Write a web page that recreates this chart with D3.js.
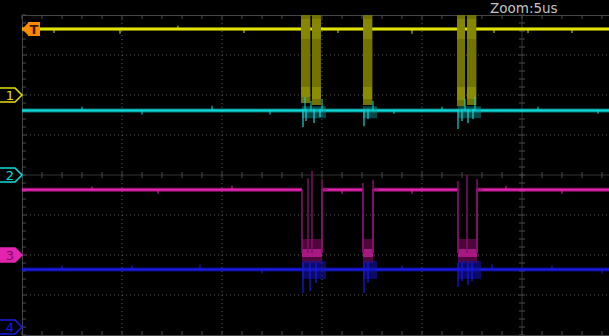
<!DOCTYPE html>
<html><head><meta charset="utf-8">
<script src="https://cdn.jsdelivr.net/npm/d3@7"></script>
<style>html,body{margin:0;padding:0;background:#000;overflow:hidden}svg{display:block}</style>
</head><body>
<script>
// ---- data (time in µs, amplitude in divisions) ----
const timeTicks = [-20, -15, -10, -5, 0, 5];
const voltTicks = [-3, -2, -1, 1, 2, 3];
const channelNames = ["1", "2", "3", "4"];
const channelOffsets = [2, 0, -2, -3.8];
const traceLevels = [3.65, 1.61, -0.37, -2.36];
// ch1 data bursts [start, end]
const bursts = [[-11.05, -10.6], [-10.5, -10.05], [-7.95, -7.5], [-3.25, -2.85], [-2.75, -2.3]];
const burstLows = [1.8, 1.75, 1.75, 1.72, 1.75];
// ch3 low periods [start, end]
const ch3Groups = [[-11.0, -10.0], [-7.95, -7.45], [-3.2, -2.25]];
const ch3Low = -1.95;
// ch3 spikes [time, peak]
const ch3Spikes = [[-10.7, -0.08], [-10.5, 0.1], [-10.0, -0.12], [-7.95, -0.2], [-7.45, -0.12], [-3.2, -0.15], [-2.75, 0.0], [-2.25, -0.1]];
// ch2 and ch4 disturbance peaks [time, low]
const ch2Dips = [[-10.95, 1.2], [-10.8, 1.35], [-10.4, 1.3], [-10.1, 1.45], [-7.9, 1.22], [-7.7, 1.4], [-3.2, 1.15], [-3.0, 1.35], [-2.7, 1.3], [-2.45, 1.4]];
const ch2Ups = [[-10.85, 1.95], [-10.55, 1.85], [-10.0, 1.9], [-7.45, 1.85], [-2.85, 1.9], [-2.35, 1.95]];
const ch4Dips = [[-10.95, -2.95], [-10.6, -2.9], [-10.3, -2.7], [-7.9, -2.95], [-7.7, -2.7], [-3.2, -2.8], [-3.0, -2.65], [-2.7, -2.75], [-2.5, -2.65]];
// small baseline glitches [time, deviation]
const ch1Glitch = [[-23.4, -0.1], [-20.1, -0.12], [-17.2, 0.08], [-13.9, -0.1], [-9.2, -0.1], [-5.5, -0.12], [-1.4, -0.1], [0.3, -0.1], [2.5, -0.1]];
const ch2Glitch = [[-22.0, 0.1], [-19.0, -0.1], [-15.5, 0.12], [-12.6, -0.1], [-6.4, -0.08], [-4.0, 0.1], [0.8, 0.1], [3.8, -0.08]];
const ch3Glitch = [[-21.5, 0.08], [-18.2, -0.1], [-14.5, 0.1], [-9.0, -0.1], [-5.5, -0.1], [-0.8, 0.1], [2.0, -0.1]];
const ch4Glitch = [[-23.0, 0.1], [-19.5, 0.1], [-16.1, 0.12], [-13.0, -0.1], [-6.0, 0.1], [-1.5, 0.12], [1.5, 0.1], [4.0, -0.1]];
const zoomLabel = "Zoom:5us";

const W = 609, H = 336;
const colors = ["#e2e200", "#10dada", "#e424b0", "#1a1ae8"];
const svg = d3.select("body").append("svg").attr("width", W).attr("height", H);
svg.append("rect").attr("width", W).attr("height", H).attr("fill", "#000");

const x = d3.scaleLinear().domain([-25, 25]).range([22, 1022]);
const y = d3.scaleLinear().domain([-4, 4]).range([335, 15]);

// ---- graticule ----
const g = svg.append("g");
g.selectAll(".vx").data(timeTicks.filter(t => t !== 0)).join("line")
  .attr("x1", d => x(d)).attr("x2", d => x(d)).attr("y1", 15).attr("y2", 335)
  .attr("stroke", "#5a5a5a").attr("stroke-dasharray", "1,3");
g.selectAll(".hy").data(voltTicks).join("line")
  .attr("x1", 22).attr("x2", W).attr("y1", d => y(d)).attr("y2", d => y(d))
  .attr("stroke", "#5a5a5a").attr("stroke-dasharray", "1,3");
// center axes
g.append("line").attr("x1", 22).attr("x2", W).attr("y1", y(0)).attr("y2", y(0)).attr("stroke", "#333");
g.append("line").attr("x1", x(0)).attr("x2", x(0)).attr("y1", 15).attr("y2", 335).attr("stroke", "#333");
const minorT = d3.range(-25, 5.01, 1);
const minorV = d3.range(-4, 4.01, 0.2);
g.selectAll(".mt").data(minorT).join("line")
  .attr("x1", d => x(d)).attr("x2", d => x(d)).attr("y1", y(0) - 3).attr("y2", y(0) + 3).attr("stroke", "#4a4a4a");
g.selectAll(".mv").data(minorV).join("line")
  .attr("x1", x(0) - 3).attr("x2", x(0) + 3).attr("y1", d => y(d)).attr("y2", d => y(d)).attr("stroke", "#4a4a4a");
// borders
g.append("line").attr("x1", 22).attr("x2", W).attr("y1", 15.5).attr("y2", 15.5).attr("stroke", "#444");
g.append("line").attr("x1", 22).attr("x2", W).attr("y1", 335.5).attr("y2", 335.5).attr("stroke", "#444");
g.append("line").attr("x1", 22.5).attr("x2", 22.5).attr("y1", 15).attr("y2", 336).attr("stroke", "#444");
g.selectAll(".bt").data(minorT).join("line")
  .attr("x1", d => x(d)).attr("x2", d => x(d)).attr("y1", 15).attr("y2", 19).attr("stroke", "#4a4a4a");
g.selectAll(".bb").data(minorT).join("line")
  .attr("x1", d => x(d)).attr("x2", d => x(d)).attr("y1", 331).attr("y2", 335).attr("stroke", "#4a4a4a");
g.selectAll(".bl").data(minorV).join("line")
  .attr("x1", 22).attr("x2", 26).attr("y1", d => y(d)).attr("y2", d => y(d)).attr("stroke", "#4a4a4a");

// ---- traces ----
const line = d3.line().x(d => x(d[0])).y(d => y(d[1])).curve(d3.curveLinear);
function baseline(i, glitches) {
  const lv = traceLevels[i];
  const tg = svg.append("g");
  tg.append("line").attr("x1", x(-25)).attr("x2", W).attr("y1", y(lv)).attr("y2", y(lv))
    .attr("stroke", colors[i]).attr("stroke-width", 4).attr("opacity", 0.55);
  tg.append("line").attr("x1", x(-25)).attr("x2", W).attr("y1", y(lv)).attr("y2", y(lv))
    .attr("stroke", colors[i]).attr("stroke-width", 2);
  tg.selectAll("line.gl").data(glitches).join("line").attr("class", "gl")
    .attr("x1", d => x(d[0])).attr("x2", d => x(d[0]))
    .attr("y1", y(lv)).attr("y2", d => y(lv + d[1]))
    .attr("stroke", colors[i]).attr("stroke-width", 1);
  return tg;
}

// ch1 bursts
baseline(0, ch1Glitch);
const b1 = svg.append("g");
b1.selectAll("rect").data(bursts).join("rect")
  .attr("x", d => x(d[0])).attr("width", d => x(d[1]) - x(d[0]))
  .attr("y", y(4)).attr("height", (d, i) => y(burstLows[i]) - y(4))
  .attr("fill", "#6a6a00");
bursts.forEach((b, i) => {
  const cols = d3.range(b[0] + 0.05, b[1], 0.1);
  b1.selectAll(null).data(cols).join("line")
    .attr("x1", d => x(d)).attr("x2", d => x(d))
    .attr("y1", y(4)).attr("y2", y(burstLows[i]))
    .attr("stroke", "#858500").attr("stroke-width", 1).attr("opacity", 0.7);
  b1.append("rect").attr("x", x(b[0])).attr("width", x(b[1]) - x(b[0]))
    .attr("y", y(2.2)).attr("height", y(burstLows[i] + 0.15) - y(2.2))
    .attr("fill", "#a0a000").attr("opacity", 0.55);
  b1.append("rect").attr("x", x(b[0])).attr("width", x(b[1]) - x(b[0]))
    .attr("y", y(3.9)).attr("height", y(3.4) - y(3.9))
    .attr("fill", "#959500").attr("opacity", 0.55);
});

// ch2
baseline(1, ch2Glitch);
const b2 = svg.append("g");
ch3Groups.forEach(gr => {
  b2.append("rect").attr("x", x(gr[0])).attr("width", x(gr[1] + 0.2) - x(gr[0]))
    .attr("y", y(1.72)).attr("height", y(1.42) - y(1.72)).attr("fill", "#0c9a9a").attr("opacity", 0.45);
});
b2.selectAll("line.d").data(ch2Dips).join("line").attr("class", "d")
  .attr("x1", d => x(d[0])).attr("x2", d => x(d[0]))
  .attr("y1", y(1.65)).attr("y2", d => y(d[1])).attr("stroke", colors[1]).attr("stroke-width", 1.2);
b2.selectAll("line.u").data(ch2Ups).join("line").attr("class", "u")
  .attr("x1", d => x(d[0])).attr("x2", d => x(d[0]))
  .attr("y1", y(1.6)).attr("y2", d => y(d[1])).attr("stroke", colors[1]).attr("stroke-width", 1);

// ch3
baseline(2, ch3Glitch);
const b3 = svg.append("g");
ch3Groups.forEach(gr => {
  b3.append("rect").attr("x", x(gr[0])).attr("width", x(gr[1]) - x(gr[0]))
    .attr("y", y(traceLevels[2]) - 3).attr("height", 6).attr("fill", "#000");
  b3.append("rect").attr("x", x(gr[0])).attr("width", x(gr[1]) - x(gr[0]))
    .attr("y", y(-1.6)).attr("height", y(-2.2) - y(-1.6)).attr("fill", "#6a0850").attr("opacity", 0.75);
  b3.append("rect").attr("x", x(gr[0])).attr("width", x(gr[1]) - x(gr[0]))
    .attr("y", y(-1.85)).attr("height", y(-2.05) - y(-1.85)).attr("fill", colors[2]).attr("opacity", 0.6);
  b3.append("path").attr("d", line([[gr[0], traceLevels[2]], [gr[0], ch3Low]]))
    .attr("stroke", "#8a1470").attr("stroke-width", 1.5).attr("fill", "none");
  b3.append("path").attr("d", line([[gr[1], ch3Low], [gr[1], traceLevels[2]], [gr[1] + 0.3, traceLevels[2]]]))
    .attr("stroke", "#a81a82").attr("stroke-width", 1.5).attr("fill", "none");
});
b3.selectAll("line.s").data(ch3Spikes).join("line").attr("class", "s")
  .attr("x1", d => x(d[0])).attr("x2", d => x(d[0]))
  .attr("y1", y(ch3Low)).attr("y2", d => y(d[1])).attr("stroke", "#7e1266").attr("stroke-width", 1.5);

// ch4
baseline(3, ch4Glitch);
const b4 = svg.append("g");
ch3Groups.forEach(gr => {
  b4.append("rect").attr("x", x(gr[0])).attr("width", x(gr[1] + 0.2) - x(gr[0]))
    .attr("y", y(-2.15)).attr("height", y(-2.6) - y(-2.15)).attr("fill", "#1212a8").attr("opacity", 0.6);
});
b4.selectAll("line.d").data(ch4Dips).join("line").attr("class", "d")
  .attr("x1", d => x(d[0])).attr("x2", d => x(d[0]))
  .attr("y1", y(-2.2)).attr("y2", d => y(d[1])).attr("stroke", colors[3]).attr("stroke-width", 1.2);

// ---- channel markers ----
const mk = svg.append("g");
channelNames.forEach((n, i) => {
  const cy = y(channelOffsets[i]);
  const filled = i === 2;
  mk.append("path")
    .attr("d", `M0,${cy - 7}H15L22,${cy}L15,${cy + 7}H0`)
    .attr("fill", filled ? colors[i] : "none")
    .attr("stroke", colors[i]).attr("stroke-width", 1.5);
  mk.append("text").attr("x", 10).attr("y", cy + 5).attr("text-anchor", "middle")
    .attr("font-family", "DejaVu Sans, sans-serif").attr("font-size", 13)
    .attr("fill", filled ? "#7a0a5c" : colors[i]).text(n);
});
// trigger marker
const ty = y(traceLevels[0]);
mk.append("path").attr("d", `M22,${ty}L28,${ty - 6}V${ty - 7}H40V${ty + 7}H28V${ty + 6}Z`).attr("fill", "#ff8a00");
mk.append("text").attr("x", 34).attr("y", ty + 5).attr("text-anchor", "middle")
  .attr("font-family", "DejaVu Sans, sans-serif").attr("font-size", 13).attr("font-weight", "bold")
  .attr("fill", "#3a1a00").text("T");

svg.append("text").attr("x", 490).attr("y", 13)
  .attr("font-family", "DejaVu Sans, sans-serif").attr("font-size", 13.5)
  .attr("fill", "#c4c4c4").text(zoomLabel);
</script>
</body></html>
